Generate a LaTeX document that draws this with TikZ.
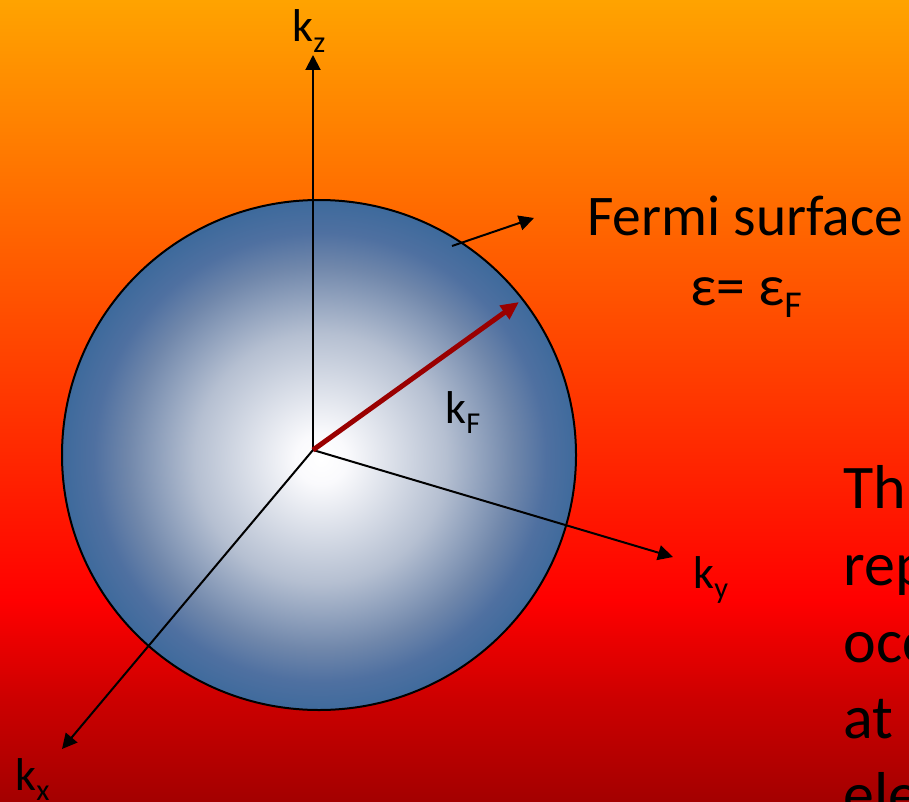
\documentclass[tikz,border=0pt]{standalone}
\usepackage{fontspec}
\usepackage{graphicx}
\setmainfont{Carlito}
\usetikzlibrary{arrows.meta}
\definecolor{ink}{HTML}{000000}
\definecolor{fsblue}{HTML}{3E6A9C}
\definecolor{kfred}{HTML}{9A0000}
% background: orange on top, red, dark red at the bottom
\pgfdeclareverticalshading{bgshade}{100bp}{rgb(0bp)=(0.64,0,0); rgb(25bp)=(0.64,0,0); rgb(31.4bp)=(0.8,0,0); rgb(37.6bp)=(1,0,0); rgb(75bp)=(1,0.64,0); rgb(100bp)=(1,0.64,0)}
% Fermi sphere: white core, blue rim
\pgfdeclareradialshading{ballshade}{\pgfpoint{0.2bp}{-0.4bp}}{rgb(0bp)=(1,1,1); rgb(2.5bp)=(0.98,0.98,0.99); rgb(12.25bp)=(0.71,0.75,0.82); rgb(18.75bp)=(0.44,0.53,0.67); rgb(22bp)=(0.31,0.44,0.63); rgb(25bp)=(0.243,0.416,0.612); rgb(50bp)=(0.243,0.416,0.612)}
\tikzset{
  axis/.style={-{Triangle[length=7.5pt,width=7.5pt]},line width=1pt,ink},
  kfvec/.style={-{Triangle[length=9pt,width=8pt]},line width=2.5pt,kfred},
  lbl/.style={anchor=base west,inner sep=0pt,font=\fontsize{23}{27}\selectfont,text=ink},
  big/.style={lbl,font=\fontsize{28.75}{34}\selectfont},
  side/.style={lbl,font=\fontsize{31}{37}\selectfont}
}
\newcommand{\lowsub}[1]{\raisebox{-0.22em}{\scalebox{0.66}{#1}}}
\newcommand{\ks}[1]{k\lowsub{#1}}

\begin{document}
\begin{tikzpicture}[x=0.5pt,y=-0.5pt]
\useasboundingbox (0,0) rectangle (909,802);
\clip (0,0) rectangle (909,802);
% ===================== background =====================
\shade[shading=bgshade] (0,0) rectangle (909,802);
% ===================== the sphere =====================
\shade[shading=ballshade] (319,455) circle [x radius=257,y radius=255];
\draw[line width=1pt,ink] (319,455) circle [x radius=257,y radius=255];
% ===================== axes =====================
\coordinate (O) at (313,450);
\coordinate (kztip) at (313,55);
\coordinate (kytip) at (673,557);
\coordinate (kxtip) at (62,749);
\coordinate (kftip) at (519,302);
\coordinate (fsfoot) at (452,246);
\coordinate (fstip) at (534,218);
\draw[axis] (O) -- (kztip);
\draw[axis] (O) -- (kytip);
\draw[axis] (O) -- (kxtip);
\draw[kfvec] (O) -- (kftip);
\draw[axis] (fsfoot) -- (fstip);
% labels
\node[lbl] (kz) at (292,42) {\ks{z}};
\node[lbl] (ky) at (693,588) {\ks{y}};
\node[lbl] (kx) at (15,790) {\ks{x}};
\node[lbl] (kf) at (445,423) {\ks{F}};
\node[big] (fermi) at (587,235) {Fermi surface};
\node[big] (eps) at (690,305) {ε= ε\lowsub{F}};
% ===================== side text, cut at the edge =====================
\node[side] (s1) at (843,508) {Th};
\node[side] (s2) at (843,585) {rep};
\node[side] (s3) at (843,662) {occ};
\node[side] (s4) at (843,738) {at};
\node[side] (s5) at (843,815) {ele};
\end{tikzpicture}
\end{document}
